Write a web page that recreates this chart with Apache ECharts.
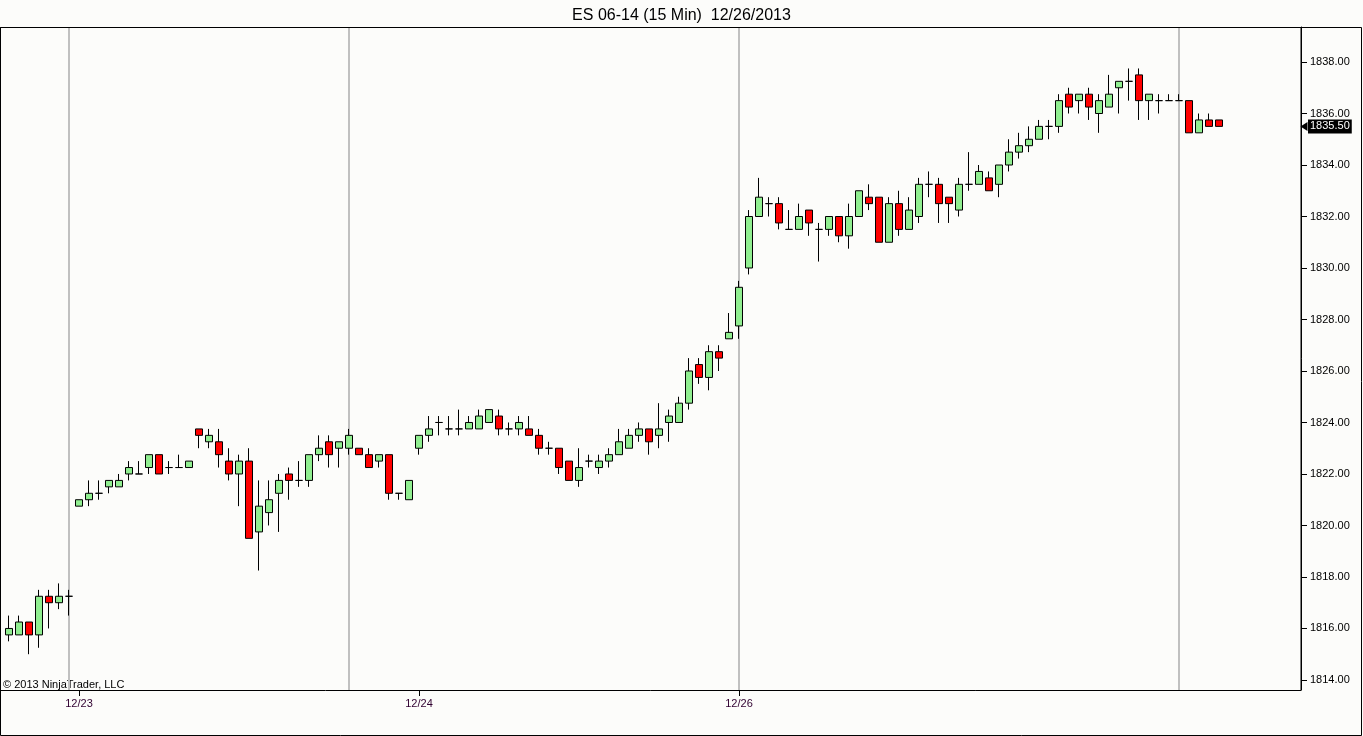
<!DOCTYPE html>
<html>
<head>
<meta charset="utf-8">
<title>ES 06-14 (15 Min) 12/26/2013</title>
<script src="https://cdn.jsdelivr.net/npm/echarts@6/dist/echarts.min.js"></script>
<style>
  html, body { margin: 0; padding: 0; background: #fcfcfa; }
  #chart { width: 1363px; height: 736px; }
</style>
</head>
<body>
<div id="chart"></div>
<script>
// 15 min bars (ES moves in 0.25 steps)
const open = [
  1815.75, 1815.75, 1816.25, 1815.75, 1817.25, 1817.0, 1817.25, 1820.75, 1821.0, 1821.25,
  1821.5, 1821.5, 1822.0, 1822.0, 1822.25, 1822.75, 1822.25, 1822.25, 1822.25, 1823.75,
  1823.25, 1823.25, 1822.5, 1822.0, 1822.5, 1819.75, 1820.5, 1821.25, 1822.0, 1821.75,
  1821.75, 1822.75, 1823.25, 1823.0, 1823.0, 1823.0, 1822.75, 1822.5, 1822.75, 1821.25,
  1821.0, 1823.0, 1823.5, 1824.0, 1823.75, 1823.75, 1823.75, 1823.75, 1824.0, 1824.25,
  1823.75, 1823.75, 1823.75, 1823.5, 1823.0, 1823.0, 1822.5, 1821.75, 1822.5, 1822.25,
  1822.5, 1822.75, 1823.0, 1823.5, 1823.75, 1823.5, 1824.0, 1824.0, 1824.75, 1826.25,
  1825.75, 1826.75, 1827.25, 1827.75, 1830.0, 1832.0, 1832.5, 1832.5, 1831.5, 1831.5,
  1832.25, 1831.5, 1831.5, 1832.0, 1831.25, 1832.0, 1832.75, 1832.75, 1831.0, 1832.5,
  1831.5, 1832.0, 1833.25, 1833.25, 1832.75, 1832.25, 1833.25, 1833.25, 1833.5, 1833.25,
  1834.0, 1834.5, 1834.75, 1835.0, 1835.5, 1835.5, 1836.75, 1836.5, 1836.75, 1836.0,
  1836.25, 1837.0, 1837.25, 1837.5, 1836.5, 1836.5, 1836.5, 1836.5, 1836.5, 1835.25,
  1835.75, 1835.75
];
const high = [
  1816.5, 1816.5, 1816.25, 1817.5, 1817.5, 1817.75, 1817.5, 1821.0, 1821.75, 1821.75,
  1821.75, 1822.0, 1822.5, 1822.5, 1822.75, 1822.75, 1822.5, 1822.75, 1822.5, 1823.75,
  1823.75, 1823.75, 1823.0, 1822.75, 1823.0, 1821.75, 1821.75, 1822.0, 1822.25, 1822.5,
  1822.75, 1823.5, 1823.5, 1823.25, 1823.75, 1823.0, 1823.0, 1822.75, 1822.75, 1821.25,
  1821.75, 1823.5, 1824.25, 1824.25, 1824.25, 1824.5, 1824.25, 1824.5, 1824.5, 1824.5,
  1824.0, 1824.25, 1824.25, 1823.75, 1823.25, 1823.0, 1822.5, 1823.0, 1822.75, 1822.75,
  1823.0, 1823.75, 1823.75, 1824.0, 1823.75, 1824.75, 1824.5, 1825.0, 1826.5, 1826.5,
  1827.0, 1827.0, 1828.25, 1829.5, 1832.25, 1833.5, 1832.75, 1832.75, 1832.25, 1832.5,
  1832.25, 1831.75, 1832.0, 1832.0, 1832.5, 1833.0, 1833.25, 1832.75, 1832.75, 1833.0,
  1832.75, 1833.5, 1833.75, 1833.5, 1832.75, 1833.5, 1834.5, 1834.0, 1833.75, 1834.0,
  1835.0, 1835.25, 1835.5, 1835.75, 1835.75, 1836.75, 1837.0, 1836.75, 1837.0, 1836.75,
  1837.5, 1837.25, 1837.75, 1837.75, 1836.75, 1836.75, 1836.75, 1836.75, 1836.5, 1836.0,
  1836.0, 1835.75
];
const low = [
  1815.5, 1815.75, 1815.0, 1815.25, 1816.0, 1816.75, 1816.5, 1820.75, 1820.75, 1821.0,
  1821.25, 1821.5, 1821.75, 1822.0, 1822.0, 1822.0, 1822.0, 1822.25, 1822.25, 1823.0,
  1823.0, 1822.25, 1821.75, 1820.75, 1819.5, 1818.25, 1820.0, 1819.75, 1821.0, 1821.5,
  1821.5, 1822.5, 1822.25, 1822.25, 1822.75, 1822.75, 1822.25, 1822.25, 1821.0, 1821.0,
  1821.0, 1822.75, 1823.25, 1823.5, 1823.5, 1823.5, 1823.75, 1823.75, 1824.0, 1823.5,
  1823.5, 1823.5, 1823.5, 1822.75, 1822.75, 1822.0, 1821.75, 1821.5, 1822.25, 1822.0,
  1822.25, 1822.75, 1823.0, 1823.25, 1822.75, 1823.0, 1823.25, 1824.0, 1824.5, 1825.5,
  1825.25, 1826.0, 1827.25, 1827.25, 1829.75, 1832.0, 1832.0, 1831.5, 1831.5, 1831.5,
  1831.25, 1830.25, 1831.25, 1831.0, 1830.75, 1832.0, 1832.25, 1831.0, 1831.0, 1831.25,
  1831.5, 1831.75, 1832.75, 1831.75, 1831.75, 1832.0, 1833.0, 1833.25, 1833.0, 1832.75,
  1833.75, 1834.25, 1834.5, 1835.0, 1835.0, 1835.25, 1836.0, 1836.0, 1835.75, 1835.25,
  1836.25, 1836.0, 1836.5, 1835.75, 1835.75, 1836.0, 1836.5, 1836.5, 1835.25, 1835.25,
  1835.5, 1835.5
];
const close = [
  1816.0, 1816.25, 1815.75, 1817.25, 1817.0, 1817.25, 1817.25, 1821.0, 1821.25, 1821.25,
  1821.75, 1821.75, 1822.25, 1822.0, 1822.75, 1822.0, 1822.25, 1822.25, 1822.5, 1823.5,
  1823.5, 1822.75, 1822.0, 1822.5, 1819.5, 1820.75, 1821.0, 1821.75, 1821.75, 1821.75,
  1822.75, 1823.0, 1822.75, 1823.25, 1823.5, 1822.75, 1822.25, 1822.75, 1821.25, 1821.25,
  1821.75, 1823.5, 1823.75, 1824.0, 1823.75, 1823.75, 1824.0, 1824.25, 1824.5, 1823.75,
  1823.75, 1824.0, 1823.5, 1823.0, 1823.0, 1822.25, 1821.75, 1822.25, 1822.5, 1822.5,
  1822.75, 1823.25, 1823.5, 1823.75, 1823.25, 1823.75, 1824.25, 1824.75, 1826.0, 1825.75,
  1826.75, 1826.5, 1827.5, 1829.25, 1832.0, 1832.75, 1832.5, 1831.75, 1831.5, 1832.0,
  1831.75, 1831.5, 1832.0, 1831.25, 1832.0, 1833.0, 1832.5, 1831.0, 1832.5, 1831.5,
  1832.25, 1833.25, 1833.25, 1832.5, 1832.5, 1833.25, 1833.25, 1833.75, 1833.0, 1834.0,
  1834.5, 1834.75, 1835.0, 1835.5, 1835.5, 1836.5, 1836.25, 1836.75, 1836.25, 1836.5,
  1836.75, 1837.25, 1837.25, 1836.5, 1836.75, 1836.5, 1836.5, 1836.5, 1835.25, 1835.75,
  1835.5, 1835.5
];

// date labels on the time axis and the session break bars (gray lines)
const tickBars = [7, 41, 73];
const tickLabels = ['12/23', '12/24', '12/26'];
const sessionBreaks = [6, 34, 73, 117];

// the original leaves empty room right of the last bar
const slotCount = 130;
const slots = Array.from({ length: slotCount }, (_, i) => String(i));
const candles = close.map((c, i) => [open[i], c, low[i], high[i]]);
const lastPrice = close[close.length - 1];

const font = 'Liberation Sans';
const chart = echarts.init(document.getElementById('chart'));

chart.setOption({
  backgroundColor: '#fcfcfa',
  animation: false,
  title: {
    text: 'ES 06-14 (15 Min)  12/26/2013',
    left: 'center',
    top: 3,
    textStyle: { fontFamily: font, fontSize: 16, fontWeight: 'normal', color: '#000' }
  },
  grid: { left: 4, top: 27, right: 59, bottom: 46 },
  xAxis: {
    type: 'category',
    data: slots,
    boundaryGap: true,
    axisLine: { show: false },
    axisTick: {
      show: true,
      alignWithLabel: true,
      length: 6,
      interval: (i) => tickBars.includes(i),
      lineStyle: { color: '#000' }
    },
    axisLabel: {
      interval: (i) => tickBars.includes(i),
      formatter: (v, i) => tickLabels[tickBars.indexOf(i)] || '',
      color: '#300030',
      fontFamily: font,
      fontSize: 11,
      margin: 8
    },
    splitLine: { show: false }
  },
  yAxis: {
    type: 'value',
    position: 'right',
    offset: -3,
    min: 1813.61,
    max: 1839.36,
    splitNumber: 13,
    splitLine: { show: false },
    axisLine: { show: true, lineStyle: { color: '#000' } },
    axisTick: { show: true, length: 6, lineStyle: { color: '#000' } },
    axisLabel: {
      color: '#000',
      fontFamily: font,
      fontSize: 11,
      margin: 9,
      showMinLabel: false,
      showMaxLabel: false,
      formatter: (v) => v.toFixed(2)
    }
  },
  series: [
    {
      type: 'candlestick',
      data: candles,
      barWidth: 7,
      z: 2,
      itemStyle: {
        color: '#90ee90',
        color0: '#ff0000',
        borderColor: '#000',
        borderColor0: '#000',
        borderColorDoji: '#000',
        borderWidth: 1
      },
      markLine: {
        silent: true,
        z: 1,
        symbol: ['none', 'none'],
        label: { show: false },
        lineStyle: { color: '#c0c0c0', width: 2, type: 'solid' },
        data: sessionBreaks.map((i) => ({ xAxis: slots[i] }))
      }
    },
    {
      // carries the last-price tag on the price axis
      type: 'line',
      data: [],
      clip: false,
      symbol: 'none',
      silent: true,
      markLine: {
        silent: true,
        z: 5,
        symbol: ['none', 'path://M0,0 L10,0 L5,8 Z'],
        symbolSize: [9, 7],
        lineStyle: { color: '#000', width: 0, type: 'solid' },
        label: {
          show: true,
          position: 'end',
          distance: 4,
          formatter: (p) => p.value.toFixed(2),
          backgroundColor: '#000',
          color: '#fff',
          fontFamily: font,
          fontSize: 11,
          padding: [2, 2, 1, 2]
        },
        data: [{ yAxis: lastPrice }]
      }
    }
  ],
  graphic: [
    {
      type: 'rect',
      silent: true,
      z: 10,
      shape: { x: 0.5, y: 27.5, width: 1361, height: 708 },
      style: { fill: 'none', stroke: '#000', lineWidth: 1 }
    },
    {
      type: 'rect',
      silent: true,
      z: 10,
      shape: { x: 0.5, y: 27.5, width: 1300.5, height: 663 },
      style: { fill: 'none', stroke: '#000', lineWidth: 1 }
    },
    {
      type: 'text',
      left: 3,
      top: 679,
      silent: true,
      style: { text: '\u00a9 2013 NinjaTrader, LLC', font: '11px "Liberation Sans"', fill: '#000' }
    }
  ]
});
</script>
</body>
</html>
